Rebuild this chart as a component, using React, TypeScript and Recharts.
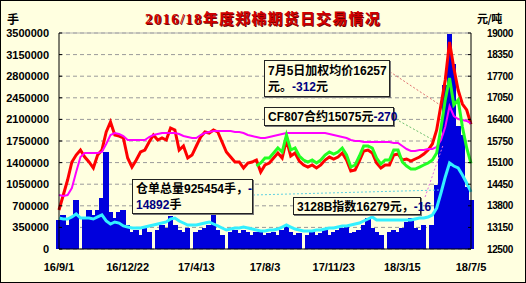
import React from 'react';
import { ComposedChart, Bar, Line, XAxis, YAxis, CartesianGrid, ReferenceLine } from 'recharts';

// x positions are weekly steps; tick labels every 16 weeks
const tickLabels = ['16/9/1', '16/12/22', '17/4/13', '17/8/3', '17/11/23', '18/3/15', '18/7/5'];
const tickPositions = [0, 16, 32, 48, 64, 80, 96];

// 成交量 (手) — blue bars, left axis
const volume = [
  470000, 551000, 389000, 502000, 794000, 0, 502000, 632000, 551000, 632000,
  826000, 1572000, 600000, 502000, 600000, 632000, 389000, 275000, 308000, 227000,
  340000, 275000, 0, 308000, 389000, 340000, 535000, 389000, 308000, 275000,
  340000, 0, 275000, 308000, 340000, 389000, 551000, 308000, 227000, 0,
  275000, 308000, 259000, 308000, 275000, 227000, 275000, 308000, 227000, 259000,
  275000, 227000, 308000, 389000, 275000, 227000, 259000, 0, 227000, 275000,
  227000, 259000, 308000, 227000, 275000, 308000, 340000, 389000, 259000, 275000,
  308000, 389000, 502000, 340000, 275000, 227000, 0, 275000, 308000, 275000,
  340000, 438000, 502000, 340000, 308000, 389000, 0, 389000, 1037000, 1766000,
  2650000, 3480000, 3000000, 2000000, 1847000, 1000000, 800000,
];

// 仓单总量 (手) — cyan line, left axis
const receipts = [
  502000, 486000, 486000, 519000, 567000, 502000, 502000, 502000, 486000, 519000,
  551000, 454000, 405000, 438000, 421000, 373000, 356000, 340000, 340000, 340000,
  356000, 373000, 389000, 405000, 421000, 438000, 486000, 502000, 454000, 421000,
  389000, 389000, 389000, 405000, 421000, 438000, 405000, 373000, 340000, 308000,
  324000, 340000, 340000, 356000, 340000, 324000, 308000, 292000, 292000, 308000,
  308000, 324000, 356000, 389000, 356000, 324000, 308000, 292000, 292000, 292000,
  308000, 308000, 324000, 340000, 340000, 356000, 373000, 373000, 389000, 405000,
  421000, 454000, 486000, 519000, 470000, 470000, 470000, 470000, 470000, 470000,
  470000, 470000, 470000, 486000, 502000, 502000, 519000, 551000, 664000, 907000,
  1167000, 1394000, 1345000, 1313000, 1199000, 1069000, 925454,
];

// 加权均价 (元/吨) — red line, right axis
const avgPrice = [
  13673, 14125, 14576, 15118, 15328, 15479, 15268, 15118, 14937, 15328,
  15479, 16021, 16321, 15930, 15900, 15840, 15238, 14967, 15178, 15419,
  15479, 15720, 15930, 15780, 15840, 15780, 16141, 16081, 15479, 15599,
  15238, 15328, 15599, 15870, 16021, 15990, 16081, 16021, 15720, 15419,
  15268, 15118, 15118, 14937, 15088, 15118, 15178, 14817, 15028, 15088,
  15238, 15389, 15238, 15780, 15298, 15389, 15148, 15028, 14967, 15028,
  14937, 15028, 15178, 15268, 15208, 15268, 15389, 15178, 14846, 14877,
  15148, 15449, 15479, 15389, 15088, 14937, 15028, 15028, 15328, 15359,
  15178, 15208, 15148, 15208, 15268, 15359, 15479, 15660, 16081, 16833,
  17585, 18729, 17946, 17284, 16863, 16683, 16257,
];

// CF807合约 (元/吨) — green line, right axis (starts at week 46)
const cf807Start = 46;
const cf807 = [
  14997, 15088, 15238, 15238, 15389, 15539, 15419, 15930, 15479, 15539,
  15298, 15178, 15118, 15178, 15088, 15178, 15328, 15419, 15359, 15419,
  15539, 15328, 14967, 15028, 15298, 15599, 15599, 15539, 15238, 15057,
  15178, 15178, 15479, 15479, 15118, 14997, 14907, 14907, 14967, 15028,
  15088, 15178, 15389, 16141, 16983, 17645, 16833, 16983, 16171, 15539, 15075,
];

// 3128B指数 (元/吨) — magenta line, right axis
const index3128B = [
  14125, 14095, 14125, 14335, 14817, 15268, 15389, 15389, 15389, 15389,
  15419, 15660, 15930, 15990, 15960, 15900, 15780, 15780, 15780, 15780,
  15780, 15870, 15930, 15960, 15990, 15990, 15990, 15990, 15960, 15900,
  15870, 15840, 15840, 15930, 15990, 16021, 16051, 16051, 16051, 16051,
  16051, 16021, 16021, 15990, 15930, 15900, 15870, 15840, 15840, 15870,
  15900, 15930, 15960, 15990, 15990, 15990, 15990, 15990, 15990, 15990,
  15990, 15990, 15990, 15960, 15930, 15900, 15870, 15840, 15780, 15750,
  15750, 15720, 15720, 15720, 15720, 15720, 15720, 15720, 15690, 15690,
  15599, 15509, 15449, 15449, 15479, 15479, 15509, 15509, 15569, 15780,
  16171, 16803, 16502, 16412, 16382, 16352, 16279,
];

const leftTicks = [0, 350000, 700000, 1050000, 1400000, 1750000, 2100000, 2450000, 2800000, 3150000, 3500000];
const rightTicks = [12500, 13150, 13800, 14450, 15100, 15750, 16400, 17050, 17700, 18350, 19000];

const data = volume.map((v, i) => ({
  i,
  volume: v,
  receipts: receipts[i],
  avgPrice: avgPrice[i],
  cf807: i >= cf807Start ? cf807[i - cf807Start] : null,
  index3128B: index3128B[i],
}));

const BG = '#FFFFE0';
const BAR = '#0000DD';
const tickStyle = { fontFamily: "'Liberation Sans', Arial, sans-serif", fontWeight: 700, fontSize: 11, fill: '#000' };
const boxStyle: React.CSSProperties = {
  position: 'absolute',
  background: BG,
  border: '1px solid #222',
  boxShadow: '1px 1px 0 #777',
  fontFamily: "'Liberation Sans', 'Noto Sans CJK SC', sans-serif",
  fontWeight: 700,
  fontSize: 12,
  color: '#000',
  whiteSpace: 'nowrap',
  boxSizing: 'border-box',
  padding: '1px 3px',
  lineHeight: '16px',
};
const blue = { color: '#000080' };

// widen each bar so adjacent weeks touch, keeping the library-computed centre
const WideBar = (p: any) => {
  if (!p || !p.height) return null;
  const cx = p.x + p.width / 2;
  return <rect x={cx - 2.8} y={p.y} width={5.6} height={p.height} fill={BAR} shapeRendering="crispEdges" />;
};

export default function App() {
  return (
    <div style={{ position: 'absolute', left: 0, top: 0, width: 526, height: 283, background: BG, overflow: 'hidden' }}>
      <ComposedChart width={526} height={283} data={data} margin={{ top: 33, right: 0, bottom: 0, left: 0 }}>
        <CartesianGrid yAxisId="left" vertical={false} stroke="#9a9a9a" strokeDasharray="4 3" horizontalValues={leftTicks} />
        <XAxis
          dataKey="i"
          type="number"
          domain={[0, 96]}
          ticks={tickPositions}
          tickFormatter={(v: number) => tickLabels[tickPositions.indexOf(v)]}
          interval={0}
          height={34}
          tickLine={false}
          tickSize={0}
          tickMargin={14}
          axisLine={{ stroke: '#000' }}
          tick={tickStyle}
        />
        <YAxis
          yAxisId="left"
          orientation="left"
          width={59}
          domain={[0, 3500000]}
          ticks={leftTicks}
          interval={0}
          tickSize={-3}
          tickMargin={13}
          axisLine={{ stroke: '#000' }}
          tickLine={{ stroke: '#000' }}
          tick={tickStyle}
        />
        <YAxis
          yAxisId="right"
          orientation="right"
          width={55}
          domain={[12500, 19000]}
          ticks={rightTicks}
          interval={0}
          tickSize={-3}
          tickMargin={19}
          axisLine={{ stroke: '#000' }}
          tickLine={{ stroke: '#000' }}
          tick={{ ...tickStyle, fontSize: 10, letterSpacing: -0.4 }}
        />
        <ReferenceLine yAxisId="left" y={3500000} stroke="#b0b0b0" />
        <Bar yAxisId="left" dataKey="volume" fill={BAR} barSize={4} shape={WideBar} isAnimationActive={false} />
        <Line yAxisId="left" dataKey="receipts" stroke="#33F0FF" strokeWidth={3} dot={false} isAnimationActive={false} />
        <Line yAxisId="right" dataKey="avgPrice" stroke="#FF0000" strokeWidth={3} dot={false} isAnimationActive={false} />
        <Line yAxisId="right" dataKey="index3128B" stroke="#FF00FF" strokeWidth={2} dot={false} isAnimationActive={false} />
        <Line yAxisId="right" dataKey="cf807" stroke="#22FF22" strokeWidth={3} dot={false} connectNulls={false} isAnimationActive={false} />
        <ReferenceLine yAxisId="right" segment={[{ x: 77.1, y: 17835 }, { x: 88.8, y: 16833 }]} stroke="#E07070" strokeDasharray="2 2" />
        <ReferenceLine yAxisId="right" segment={[{ x: 77.6, y: 16472 }, { x: 87.2, y: 15780 }]} stroke="#70C070" strokeDasharray="2 2" />
        <ReferenceLine yAxisId="right" segment={[{ x: 85.3, y: 14065 }, { x: 89.5, y: 15629 }]} stroke="#E070E0" strokeDasharray="2 2" />
        <ReferenceLine yAxisId="left" segment={[{ x: 45.2, y: 875000 }, { x: 88.8, y: 956000 }]} stroke="#60D0E0" strokeDasharray="2 2" />
      </ComposedChart>

      <div style={{ position: 'absolute', left: 0, top: 7, width: 526, textAlign: 'center' }}>
        <span style={{ fontFamily: "'Liberation Serif', 'Noto Sans CJK SC', serif", fontWeight: 700, fontSize: 15, letterSpacing: 1.2, color: '#D00000', textShadow: '1px 1px 0 #700000' }}>
          2016/18年度郑棉期货日交易情况
        </span>
      </div>
      <div style={{ position: 'absolute', left: 7, top: 10, fontFamily: "'Noto Sans CJK SC', sans-serif", fontWeight: 700, fontSize: 12 }}>手</div>
      <div style={{ position: 'absolute', left: 477, top: 10, fontFamily: "'Noto Sans CJK SC', sans-serif", fontWeight: 700, fontSize: 11, letterSpacing: -0.5 }}>元/吨</div>

      <div style={{ ...boxStyle, left: 264, top: 60, width: 126, height: 37, paddingTop: 2 }}>
        <div>7月5日加权均价16257</div>
        <div>元。<span style={blue}>-312</span>元</div>
      </div>
      <div style={{ ...boxStyle, left: 264, top: 107, width: 130, height: 19 }}>
        CF807合约15075元<span style={blue}>-270</span>
      </div>
      <div style={{ ...boxStyle, left: 293, top: 197, width: 128, height: 18 }}>
        3128B指数16279元，<span style={blue}>-16</span>
      </div>
      <div style={{ ...boxStyle, left: 132, top: 179, width: 121, height: 35, paddingTop: 1 }}>
        <div>仓单总量925454手，<span style={blue}>-</span></div>
        <div><span style={blue}>14892</span>手</div>
      </div>

      <div style={{ position: 'absolute', left: 0, top: 0, width: 526, height: 283, border: '1px solid #000', boxSizing: 'border-box', pointerEvents: 'none' }} />
    </div>
  );
}
